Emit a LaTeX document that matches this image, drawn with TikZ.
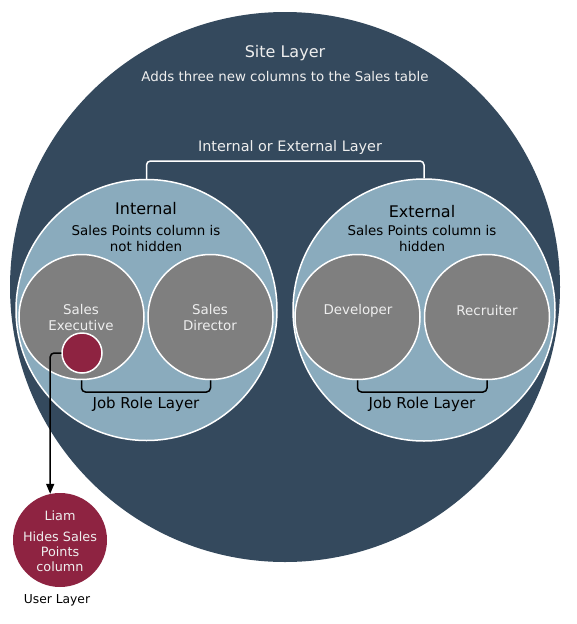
\documentclass[tikz,border=0pt]{standalone}
\usepackage{fontspec}
\setmainfont{DejaVu Sans}
\usetikzlibrary{arrows.meta}
\definecolor{sitecol}{HTML}{34495D}
\definecolor{groupcol}{HTML}{8AABBD}
\definecolor{rolecol}{HTML}{7F7F7F}
\definecolor{usercol}{HTML}{8E2341}
\definecolor{paletext}{HTML}{EEEEEE}
\begin{document}
\begin{tikzpicture}[x=1pt,y=-1pt,
    disc/.style={circle,inner sep=0pt,draw=white,line width=1.5pt},
    txt/.style={align=center,inner sep=0pt,font=\fontsize{13.4}{16}\selectfont}]
    \useasboundingbox (0,0) rectangle (576,624);
    %% Site layer
    \node[circle,inner sep=0pt,fill=sitecol,minimum size=550pt] (site) at (285,287) {};
    \node[txt,text=paletext,font=\fontsize{16}{18}\selectfont] (sitettl) at (285,53) {Site Layer};
    \node[txt,text=paletext] (sitesub) at (285,77) {Adds three new columns to the Sales table};
    %% Internal / External
    \node[disc,fill=groupcol,minimum size=261pt] (int) at (146.5,310) {};
    \node[disc,fill=groupcol,minimum size=262pt] (ext) at (424,310) {};
    \node[txt,text=paletext,font=\fontsize{14.4}{16}\selectfont] (grplbl) at (290,148) {Internal or External Layer};
    \coordinate (grptop) at (285,161);
    \draw[white,line width=1.5pt,rounded corners=4pt] (int.north) |- (grptop) -| (ext.north);
    \node[txt,font=\fontsize{16}{18}\selectfont] (intttl) at (146,209) {Internal};
    \node[txt] (intsub) at (146,239) {Sales Points column is\\not hidden};
    \node[txt,font=\fontsize{16}{18}\selectfont] (extttl) at (422,212) {External};
    \node[txt] (extsub) at (422,239) {Sales Points column is\\hidden};
    %% Job roles
    \node[disc,fill=rolecol,minimum size=125pt] (exec) at (81.5,317) {};
    \node[disc,fill=rolecol,minimum size=125pt] (dir) at (210.5,317) {};
    \node[disc,fill=rolecol,minimum size=125pt] (dev) at (357.5,317) {};
    \node[disc,fill=rolecol,minimum size=125pt] (rec) at (487,317) {};
    \node[txt,text=paletext] (execlbl) at (81,317) {Sales\\Executive};
    \node[txt,text=paletext] (dirlbl) at (210,317) {Sales\\Director};
    \node[txt,text=paletext] (devlbl) at (358,311) {Developer};
    \node[txt,text=paletext] (reclbl) at (487,311) {Recruiter};
    \coordinate (jobL) at (146,392);
    \coordinate (jobR) at (422,392);
    \draw[line width=1.5pt,rounded corners=4pt] (exec.south) |- (jobL) -| (dir.south);
    \draw[line width=1.5pt,rounded corners=4pt] (dev.south) |- (jobR) -| (rec.south);
    \node[txt,font=\fontsize{15}{17}\selectfont] (joblblL) at (146,404) {Job Role Layer};
    \node[txt,font=\fontsize{15}{17}\selectfont] (joblblR) at (422,404) {Job Role Layer};
    %% User layer
    \node[disc,fill=usercol,minimum size=40pt] (red) at (82,353) {};
    \node[circle,inner sep=0pt,fill=usercol,minimum size=94pt] (liam) at (60,540) {};
    \node[txt,text=paletext,font=\fontsize{12.8}{15}\selectfont] (liamttl) at (60,516) {Liam};
    \node[txt,text=paletext,font=\fontsize{12.8}{15}\selectfont] (liamsub) at (60,552) {Hides Sales\\Points\\column};
    \node[txt,font=\fontsize{12.3}{14}\selectfont] (userlbl) at (57,600) {User Layer};
    \draw[line width=1.5pt,rounded corners=4pt,-{Triangle[length=10pt,width=8pt]}] (red.west) -| (liam.102);
\end{tikzpicture}
\end{document}
